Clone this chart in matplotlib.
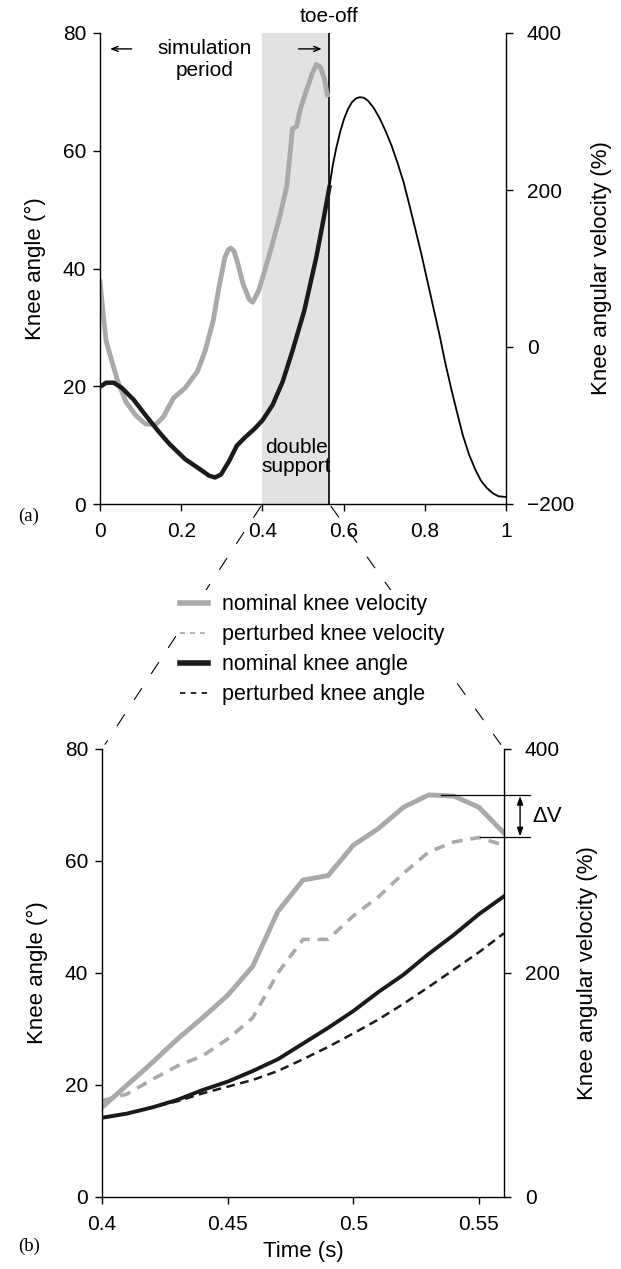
import numpy as np
import matplotlib
matplotlib.use("Agg")
import matplotlib.pyplot as plt
from matplotlib.lines import Line2D
from matplotlib.patches import ConnectionPatch
import matplotlib.transforms as mtransforms

plt.rcParams['font.family'] = ['Liberation Sans', 'DejaVu Sans']

# ---------------- data: full gait cycle (panel a) ----------------
t_angle = [0.0, 0.015, 0.034, 0.054, 0.083, 0.112, 0.142, 0.171, 0.21, 0.24, 0.269,
           0.283, 0.298, 0.318, 0.337, 0.357, 0.381, 0.4, 0.425, 0.45, 0.474, 0.503,
           0.533, 0.552, 0.565, 0.573, 0.582, 0.592, 0.601, 0.611, 0.621, 0.631, 0.64,
           0.65, 0.66, 0.674, 0.689, 0.703, 0.718, 0.733, 0.748, 0.762, 0.777, 0.792,
           0.806, 0.821, 0.836, 0.85, 0.865, 0.88, 0.894, 0.909, 0.924, 0.938, 0.953,
           0.968, 0.982, 1.0]
knee_angle = [19.9, 20.6, 20.6, 19.7, 17.7, 15.1, 12.5, 10.2, 7.6, 6.2, 4.8,
              4.5, 5.0, 7.3, 9.9, 11.3, 12.8, 14.2, 16.8, 20.8, 26.0, 32.8,
              42.0, 48.9, 53.8, 57.4, 60.5, 63.3, 65.4, 67.1, 68.3, 68.9, 69.1,
              69.0, 68.5, 67.3, 65.5, 63.4, 60.9, 57.9, 54.6, 50.8, 46.6, 42.3,
              38.0, 33.4, 28.8, 24.1, 19.6, 15.4, 11.6, 8.4, 5.9, 4.0, 2.7,
              1.8, 1.3, 1.2]

t_vel = [0.0, 0.007, 0.015, 0.029, 0.044, 0.064, 0.088, 0.112, 0.137, 0.156, 0.181,
         0.21, 0.24, 0.259, 0.279, 0.293, 0.308, 0.316, 0.323, 0.33, 0.337, 0.352,
         0.367, 0.376, 0.391, 0.406, 0.425, 0.445, 0.46, 0.467, 0.474, 0.484, 0.494,
         0.508, 0.523, 0.533, 0.543, 0.552, 0.56]
knee_vel = [83, 46, 8, -18, -44, -70, -87, -98, -99, -89, -65,
            -52, -31, -5, 34, 76, 115, 124, 126, 122, 111, 81,
            61, 57, 72, 98, 132, 171, 205, 240, 278, 281, 304,
            326, 349, 360, 356, 343, 321]

toe_off = 0.565
ds_start = 0.40

# ---------------- data: double support zoom (panel b) ----------------
t_zoom = [0.40, 0.41, 0.42, 0.43, 0.44, 0.45, 0.46, 0.47, 0.48,
          0.49, 0.50, 0.51, 0.52, 0.53, 0.54, 0.55, 0.56]
vel_nominal = [80, 100, 120, 141, 160, 180, 206, 255, 283,
               287, 314, 329, 348, 359, 358, 348, 325]
vel_perturbed = [86, 92, 105, 117, 126, 141, 160, 200, 230,
                 230, 251, 268, 289, 308, 317, 321, 314]
ang_nominal = [14.15, 14.9, 16.0, 17.35, 19.1, 20.6, 22.5, 24.6, 27.4,
               30.2, 33.2, 36.6, 39.7, 43.4, 46.8, 50.5, 53.7]
ang_perturbed = [14.15, 14.9, 16.0, 17.1, 18.5, 19.7, 20.9, 22.5, 24.6,
                 26.8, 29.2, 31.7, 34.5, 37.5, 40.6, 43.7, 47.1]

legend_labels = ['nominal knee velocity', 'perturbed knee velocity',
                 'nominal knee angle', 'perturbed knee angle']

GREY = '#a9a9a9'
SHADE = '#e1e2e4'
FS = 15
LFS = 16

fig = plt.figure(figsize=(6.21, 12.69), dpi=100)
ax1 = fig.add_axes([100/621, 1-504/1269, 406/621, 471/1269])
ax1r = ax1.twinx()
ax2 = fig.add_axes([102/621, 1-1197/1269, 402/621, 448/1269])
ax2r = ax2.twinx()

def style(ax, axr):
    for a in (ax, axr):
        a.spines['top'].set_visible(False)
        a.tick_params(direction='out', length=5, width=1, labelsize=FS, pad=5, colors='black')
        a.tick_params(axis='x', pad=8)
    axr.tick_params(axis='y', pad=10)
    ax.spines['right'].set_visible(False)
    axr.spines['left'].set_visible(False)
    axr.spines['bottom'].set_visible(False)
    for s in ('left', 'bottom'):
        ax.spines[s].set_linewidth(1)
    axr.spines['right'].set_linewidth(1)
    ax.patch.set_visible(False)
    ax.set_zorder(axr.get_zorder() + 1)

# ---------------- panel a ----------------
ta = np.array(t_angle); ka = np.array(knee_angle)
m1 = ta <= toe_off + 1e-9
m2 = ta >= toe_off - 1e-9
ax1r.axvspan(ds_start, toe_off, color=SHADE, lw=0, zorder=0)
ax1r.axvline(toe_off, color='black', lw=1.2, zorder=1)
ax1r.plot(t_vel, knee_vel, color=GREY, lw=3.5, zorder=2)
ax1.plot(ta[m1], ka[m1], color='#1a1a1a', lw=3.2, zorder=3)
ax1.plot(ta[m2], ka[m2], color='black', lw=1.3, zorder=3)

ax1.set_xlim(0, 1)
ax1r.set_xlim(0, 1)
ax1.set_ylim(0, 80)
ax1r.set_ylim(-200, 400)
ax1.set_xticks([0, 0.2, 0.4, 0.6, 0.8, 1])
ax1.set_xticklabels(['0', '0.2', '0.4', '0.6', '0.8', '1'])
ax1.set_yticks([0, 20, 40, 60, 80])
ax1r.set_yticks([-200, 0, 200, 400])
ax1.set_ylabel('Knee angle (°)', fontsize=LFS, labelpad=12)
ax1r.set_ylabel('Knee angular velocity (%)', fontsize=LFS, labelpad=12)
style(ax1, ax1r)

ax1.text(0.257, 75.5, 'simulation\nperiod', ha='center', va='center', fontsize=FS,
         linespacing=1.2)
ax1.annotate('', xy=(0.018, 77.3), xytext=(0.085, 77.3),
             arrowprops=dict(arrowstyle='->,head_length=0.45,head_width=0.18', lw=1, color='black'))
ax1.annotate('', xy=(0.553, 77.3), xytext=(0.482, 77.3),
             arrowprops=dict(arrowstyle='->,head_length=0.45,head_width=0.18', lw=1, color='black'))
ax1.text(0.483, 8.0, 'double\nsupport', ha='center', va='center', fontsize=FS, linespacing=1.0)
trans = mtransforms.blended_transform_factory(ax1.transData, ax1.transAxes)
ax1.text(toe_off, 1.034, 'toe-off', ha='center', va='center', fontsize=FS, transform=trans)

fig.text(18/621, 1-516/1269, '(a)', family='Liberation Serif', fontsize=13.5, va='center')

# ---------------- panel b ----------------
ax2r.plot(t_zoom, vel_nominal, color=GREY, lw=3.5, zorder=2)
ax2r.plot(t_zoom, vel_perturbed, color=GREY, lw=2.6, ls=(0, (3, 2.2)), zorder=2)
ax2.plot(t_zoom, ang_nominal, color='#1a1a1a', lw=2.8, zorder=3)
ax2.plot(t_zoom, ang_perturbed, color='#1a1a1a', lw=1.8, ls=(0, (3.5, 2.2)), zorder=3)

ax2.set_xlim(0.4, 0.56)
ax2r.set_xlim(0.4, 0.56)
ax2.set_ylim(0, 80)
ax2r.set_ylim(0, 400)
ax2.set_xticks([0.4, 0.45, 0.5, 0.55])
ax2.set_xticklabels(['0.4', '0.45', '0.5', '0.55'])
ax2.set_yticks([0, 20, 40, 60, 80])
ax2r.set_yticks([0, 200, 400])
ax2.set_xlabel('Time (s)', fontsize=LFS, labelpad=5)
ax2.set_ylabel('Knee angle (°)', fontsize=LFS, labelpad=12)
ax2r.set_ylabel('Knee angular velocity (%)', fontsize=LFS, labelpad=12)
style(ax2, ax2r)

# Delta V annotation
v_hi = max(vel_nominal)
v_lo = max(vel_perturbed)
ax2r.plot([0.535, 0.5705], [v_hi, v_hi], color='black', lw=0.9, clip_on=False, zorder=4)
ax2r.plot([0.5505, 0.5705], [v_lo, v_lo], color='black', lw=0.9, clip_on=False, zorder=4)
ax2r.annotate('', xy=(0.5664, v_hi - 1), xytext=(0.5664, v_lo + 1),
              arrowprops=dict(arrowstyle='<|-|>,head_length=0.5,head_width=0.18', lw=1,
                              color='black', shrinkA=0, shrinkB=0), annotation_clip=False)
ax2r.text(0.5712, (v_hi + v_lo) / 2, 'ΔV', ha='left', va='center', fontsize=LFS,
          clip_on=False)

fig.text(18/621, 1-1246/1269, '(b)', family='Liberation Serif', fontsize=13.5, va='center')

# zoom connector lines
for xa, xb in ((ds_start, 0.4), (toe_off, 0.56)):
    con = ConnectionPatch(xyA=(xa, 0), coordsA=ax1.transData,
                          xyB=(xb, 80), coordsB=ax2.transData,
                          color='black', lw=0.8, ls=(0, (12, 16)), shrinkA=2, shrinkB=4,
                          zorder=1)
    fig.add_artist(con)

# legend
handles = [Line2D([], [], color=GREY, lw=4),
           Line2D([], [], color=GREY, lw=1.2, ls=(0, (3, 3))),
           Line2D([], [], color='#1a1a1a', lw=4),
           Line2D([], [], color='#1a1a1a', lw=1.3, ls=(0, (3, 3)))]
leg = fig.legend(handles, legend_labels, loc='upper left',
                 bbox_to_anchor=(176/621, 1-590/1269),
                 frameon=True, fancybox=False, fontsize=15.5, handlelength=1.3,
                 handletextpad=0.65, labelspacing=0.42, borderpad=0.2, borderaxespad=0)
leg.get_frame().set_facecolor('white')
leg.get_frame().set_edgecolor('none')
leg.get_frame().set_alpha(1)
leg.set_zorder(5)

fig.savefig('out.png', dpi=100)
